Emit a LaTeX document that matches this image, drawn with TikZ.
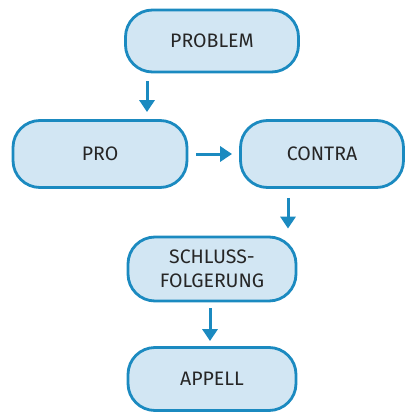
\documentclass[tikz,border=0pt]{standalone}
\usepackage{fontspec}
\setmainfont{Fira Sans}
\usetikzlibrary{arrows.meta}
\definecolor{boxfill}{HTML}{D2E6F3}
\definecolor{boxline}{HTML}{1B8AC0}
\tikzset{
  stepbox/.style={draw=boxline, fill=boxfill, line width=2.8pt, rounded corners=27pt,
    align=center, font=\fontsize{19.5}{24}\selectfont, text=black!85, inner sep=0pt},
  arr/.style={draw=boxline, line width=3pt, -{Triangle[length=12pt,width=15pt]}}
}
\begin{document}
\begin{tikzpicture}[x=1pt,y=-1pt]
\useasboundingbox (0,0) rectangle (408,414);
\node[stepbox, minimum width=173pt, minimum height=62pt] (problem) at (212,41) {PROBLEM};
\node[stepbox, minimum width=174pt, minimum height=67pt] (pro) at (100,154) {PRO};
\node[stepbox, minimum width=163pt, minimum height=67pt] (contra) at (322,154) {CONTRA};
\node[stepbox, minimum width=168pt, minimum height=64pt] (schluss) at (212,269) {SCHLUSS-\\FOLGERUNG};
\node[stepbox, minimum width=168pt, minimum height=63pt] (appell) at (212,379) {APPELL};
\draw[arr] ([xshift=-65pt,yshift=-8pt]problem.south) -- ([xshift=47pt,yshift=7pt]pro.north);
\draw[arr] ([xshift=8pt]pro.east) -- ([xshift=-7pt]contra.west);
\draw[arr] ([xshift=-34pt,yshift=-9pt]contra.south) -- ([xshift=76pt,yshift=7pt]schluss.north);
\draw[arr] ([xshift=-2pt,yshift=-6pt]schluss.south) -- ([xshift=-2pt,yshift=5pt]appell.north);
\end{tikzpicture}
\end{document}
